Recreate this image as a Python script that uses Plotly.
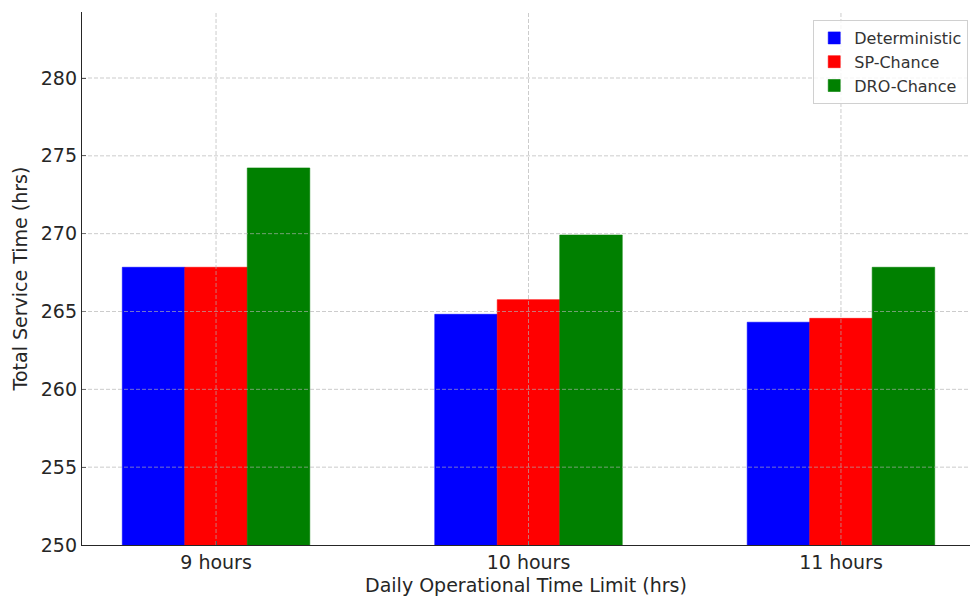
import plotly.graph_objects as go

# Data
categories = ["9 hours", "10 hours", "11 hours"]
series_names = ["Deterministic", "SP-Chance", "DRO-Chance"]
deterministic = [267.84, 264.82, 264.31]
sp_chance = [267.84, 265.76, 264.56]
dro_chance = [274.22, 269.91, 267.84]
y_ticks = [250, 255, 260, 265, 270, 275, 280]

colors = ["#0000ff", "#ff0000", "#008000"]
values = [deterministic, sp_chance, dro_chance]

fig = go.Figure()
for name, vals, col in zip(series_names, values, colors):
    fig.add_trace(go.Bar(
        name=name, x=categories, y=vals,
        marker=dict(color=col, line=dict(width=0.6, color=col)),
    ))

x_range = [-0.429, 2.413]
y_range = [250, 284.24]

# Dashed grid drawn over the bars
grid_style = dict(color="rgba(176,176,176,0.65)", width=1, dash="4px,2px")
shapes = []
for yv in y_ticks[1:]:
    shapes.append(dict(type="line", xref="paper", yref="y", x0=0, x1=1,
                       y0=yv, y1=yv, line=grid_style, layer="above"))
for i in range(len(categories)):
    shapes.append(dict(type="line", xref="x", yref="paper", x0=i, x1=i,
                       y0=0, y1=1, line=grid_style, layer="above"))

font_family = "DejaVu Sans, sans-serif"
text_color = "#262626"

fig.update_layout(
    width=970, height=601,
    margin=dict(l=82, r=0, t=12, b=56),
    plot_bgcolor="white", paper_bgcolor="white",
    barmode="group", bargap=0.4, bargroupgap=0,
    font=dict(family=font_family, color=text_color, size=19),
    shapes=shapes,
    showlegend=True,
    legend=dict(
        x=0.998, y=0.985, xanchor="right", yanchor="top",
        bgcolor="rgba(255,255,255,0.8)", bordercolor="#d0d0d0", borderwidth=1,
        font=dict(size=16, color="#333333", family=font_family),
        itemwidth=30, tracegroupgap=0,
    ),
    xaxis=dict(
        range=x_range, showgrid=False,
        showline=True, linecolor="#262626", linewidth=1.3,
        ticks="inside", ticklen=4, tickcolor="#262626",
        tickfont=dict(size=19, color=text_color),
        title=dict(text="Daily Operational Time Limit (hrs)", standoff=6,
                   font=dict(size=19, color=text_color)),
        zeroline=False,
    ),
    yaxis=dict(
        range=y_range, showgrid=False,
        tickvals=y_ticks,
        showline=True, linecolor="#262626", linewidth=1.3,
        ticks="inside", ticklen=4, tickcolor="#262626",
        tickfont=dict(size=19, color=text_color),
        title=dict(text="Total Service Time (hrs)", standoff=8,
                   font=dict(size=19, color=text_color)),
        zeroline=False,
    ),
)

fig.write_html("out.html")
